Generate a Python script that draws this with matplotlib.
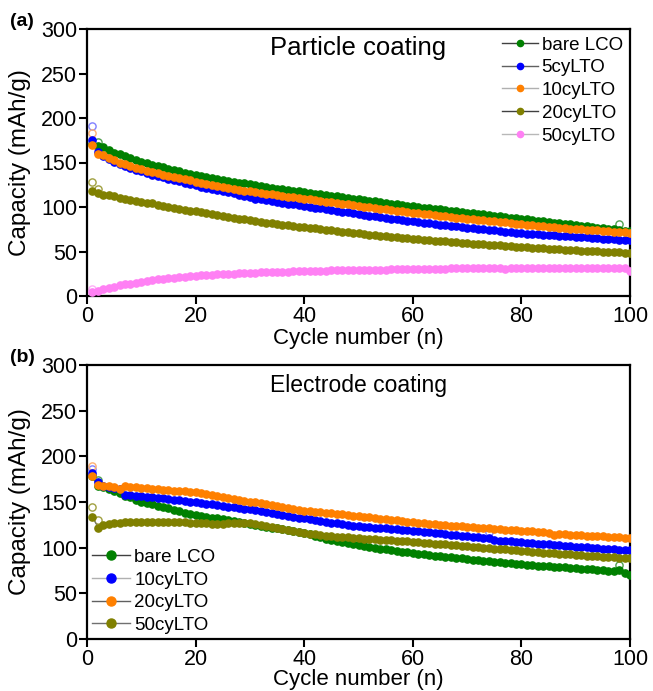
import matplotlib
matplotlib.use("Agg")
import matplotlib.pyplot as plt
import numpy as np

plt.rcParams['font.family'] = ['Liberation Sans', 'DejaVu Sans']

cycles = list(range(1, 101))

# ---------------- Panel (a): Particle coating (discharge capacity) ----------------
a_labels = ["bare LCO", "5cyLTO", "10cyLTO", "20cyLTO", "50cyLTO"]
a_bare = [171,169,167,164,161,159,157,155,153,151,
          149,147.5,146,144.5,143,141.5,140,138.5,137,135.5,
          134.5,133.5,132.5,131.5,130.5,129.5,128.5,127.5,126.5,125.5,
          124.5,123.5,122.5,121.5,120.7,119.9,119.1,118.3,117.5,116.7,
          115.9,115.1,114.3,113.5,112.7,111.9,111.1,110.3,109.5,108.7,
          107.9,107.1,106.3,105.5,104.7,103.9,103.1,102.3,101.5,100.7,
          100,99.3,98.6,97.9,97.2,96.5,95.8,95.1,94.4,93.7,
          93,92.3,91.6,90.9,90.2,89.5,88.8,88.1,87.4,86.7,
          86,85.3,84.6,83.9,83.2,82.5,81.8,81.1,80.4,79.7,
          79,78.3,77.6,76.9,76.2,75.5,74.8,74.1,73.4,72.7]
a_5cy = [175,162,157,154,151,148,146,144,142,140,
         138,136.5,135,133.5,132,130.5,129,127.5,126.2,125,
         122.5,121.3,120.1,118.9,117.7,116.5,115.2,113.9,112.6,111.3,
         109.5,108.5,107.5,106.5,105.6,104.7,103.8,102.9,102,101.1,
         100.2,99.3,98.4,97.5,96.6,95.7,94.8,93.9,93,92.1,
         91.2,90.3,89.4,88.6,87.8,87,86.2,85.4,84.6,83.8,
         83,82.3,81.6,80.9,80.2,79.5,78.8,78.1,77.4,76.7,
         76,75.4,74.8,74.2,73.6,73,72.4,71.8,71.2,70.6,
         70.2,69.8,69.4,69,68.6,68.2,67.8,67.4,67,66.6,
         66.2,65.8,65.4,65,64.6,64.2,63.8,63.4,63,62.6]
a_10cy = [170,160,158,155,153,150,148,146,144,142.5,
          141,139.5,138,136.5,135,133.5,132.2,131,129.8,128.6,
          127.5,126.3,125.1,123.9,122.7,121.5,120.5,119.5,118.5,117.5,
          116.5,115.7,114.9,114.1,113.3,112.5,111.7,110.9,110.1,109.3,
          108.5,107.7,106.9,106.1,105.3,104.5,103.7,102.9,102.1,101.3,
          100.5,99.7,98.9,98.1,97.3,96.5,95.8,95.1,94.4,93.7,
          93,92.3,91.6,90.9,90.2,89.5,88.8,88.1,87.4,86.8,
          86.2,85.6,85,84.4,83.8,83.2,82.6,82,81.4,80.8,
          80.2,79.6,79,78.4,77.8,77.2,76.7,76.2,75.7,75.2,
          74.8,74.4,74,73.6,73.2,72.8,72.4,72,71.6,71.2]
a_20cy = [118,116,114,113,112,110.5,109,108,107,106,
          105,104,102.5,101,100,99,98,97,96,95,
          94,93,92,91,90,89,88,87,86,85,
          84,83,82.2,81.5,80.8,80.1,79.4,78.7,78,77.3,
          76.6,75.9,75.2,74.5,73.8,73.1,72.4,71.7,71,70.3,
          69.7,69.1,68.5,67.9,67.3,66.7,66.1,65.5,64.9,64.3,
          63.8,63.3,62.8,62.3,61.8,61.3,60.8,60.3,59.8,59.3,
          58.8,58.4,58,57.6,57.2,56.8,56.4,56,55.6,55.2,
          54.8,54.4,54,53.6,53.2,52.8,52.4,52,51.7,51.4,
          51.1,50.8,50.5,50.2,49.9,49.6,49.3,49,48.7,48.4]
a_50cy = [5,6,7.5,9,10.5,12,13,14,15,16,
          17,17.8,18.6,19.3,20,20.6,21.2,21.7,22.2,22.7,
          23.1,23.5,23.9,24.3,24.6,24.9,25.2,25.5,25.8,26.1,
          26.3,26.5,26.7,26.9,27.1,27.3,27.5,27.7,27.9,28.1,
          28.3,28.4,28.5,28.6,28.7,28.8,28.9,29,29.1,29.2,
          29.3,29.4,29.5,29.6,29.7,29.8,29.9,30,30.1,30.2,
          30.3,30.4,30.5,30.6,30.7,30.8,30.9,31,31.1,31.2,
          31.3,31.4,31.5,31.6,31.7,31.8,29.8,31.8,31.8,31.8,
          31.8,31.8,31.8,31.8,31.8,31.8,31.8,31.8,31.8,31.8,
          31.7,31.7,31.6,31.6,31.5,31.5,31.4,31.3,31,28]
a_values = [a_bare, a_5cy, a_10cy, a_20cy, a_50cy]
# charge capacities visible (hollow markers): (cycles, values)
a_charge_cycles = [[2, 98], [1, 2], [1, 2], [1, 2], [1]]
a_charge_values = [[173, 81], [191, 166], [183, 166], [128, 120], [8]]

# ---------------- Panel (b): Electrode coating ----------------
b_labels = ["bare LCO", "10cyLTO", "20cyLTO", "50cyLTO"]
b_bare = [178,168,166,164,162,159.5,157,155,152.5,150.5,
          149,147.5,146,144.5,143,141.5,140,138.5,137,135.5,
          135,134,133,132,131,130,129,128,127,126,
          125,124,123,122,121,120,119,118,117,115.8,
          114.5,113,111.5,110,108.8,107.6,106.4,105.3,104.2,103.1,
          102,101,100,99,98,97.2,96.4,95.6,94.8,94.2,
          93.5,92.8,92.1,91.4,90.7,90,89.4,88.8,88.2,87.6,
          87,86.4,85.8,85.2,84.6,84,83.4,82.8,82.2,81.6,
          81.2,80.8,80.4,80,79.6,79.2,78.8,78.4,78,77.6,
          77,76.6,76.2,75.8,75.4,75,74.6,76,72,70]
b_10cy = [182,172,167,166,165,164,158,157.5,157,156.5,
          156,155.3,154.6,153.9,153.2,152.5,151.8,151.1,150.4,149.7,
          149,148.2,147.4,146.6,145.8,145,144.2,143.4,142.6,141.8,
          141,140,139,138,137,136,135,134,133,132,
          131,130,129,128.2,127.4,126.6,126,124.5,124,123.5,
          123,122.5,122,121.5,121,120.5,120,119.5,119,118.5,
          118,117.4,116.8,116.2,115.6,115,114.4,113.8,113.2,112.6,
          112,111.4,111,110.5,108,107.6,107.2,106.8,106.4,106,
          105.5,105,104.5,104,103.5,103,102.5,102,101.5,101,
          100.6,100.2,99.8,99.4,99,98.6,98.2,97.8,97.4,97]
b_20cy = [178,169,167,167,166,164,167,166.5,166,165.5,
          165,164.5,164,163.5,163,162.5,162,161.5,161,160.5,
          159.5,158.5,157.5,156.5,155.5,154.5,153.5,152.5,151.5,150.5,
          149.5,148.5,147.5,146.5,145.5,144.5,143.5,142.5,141.5,140.5,
          140,139.4,138.8,138.2,137.6,137,136.4,135.8,135.2,134.6,
          134,133.3,132.6,131.9,131.2,130.5,129.8,129.1,128.4,127.7,
          127.2,126.7,126.2,125.7,125.2,124.7,124.2,123.7,123.2,122.7,
          122.2,121.8,121.4,121,120.6,120.2,119.8,119.4,119,118.6,
          118.2,117.8,117.4,117,116.6,114,115,114.6,114.2,113.8,
          113.5,113.2,112.9,112.6,112.3,112,111.7,111.4,111.1,110.8]
b_50cy = [134,122,124.5,126,127,127.5,128,128,128.3,128.5,
          128.5,128.5,128.4,128.3,128.2,128,127.8,127.6,127.4,127.2,
          127,126.5,126,125.8,126,126.5,127,127.2,127,126.5,
          125.5,124.5,123.5,122.5,121.5,120.5,119.5,118.5,117.5,116.5,
          115.5,114.5,113.8,113.2,112.7,112.2,111.7,111.2,110.8,110.4,
          110,109.6,109.2,108.8,108.4,108,107.6,107.2,106.8,106.4,
          106,105.5,105,104.5,104,103.5,103,102.5,102,101.5,
          101,100.5,100,99.5,99,98.5,98,97.5,97,96.5,
          96,95.5,95,94.6,94.2,93.8,93.4,93,92.6,92.2,
          91.8,91.4,91,90.6,90.2,89.8,89.4,89,88.6,88.2]
b_values = [b_bare, b_10cy, b_20cy, b_50cy]
b_charge_cycles = [[2, 98], [1, 74], [1], [1, 2]]
b_charge_values = [[174, 81], [186, 117], [189], [145, 130]]

x_ticks = [0, 20, 40, 60, 80, 100]
y_ticks = [0, 50, 100, 150, 200, 250, 300]

# ---------------- Styles ----------------
a_colors = ["#008000", "#0000FF", "#FF8000", "#808000", "#FF80F4"]
a_edge = ["#50A050", "#8080FF", "#FFB070", "#A0A040", "#FFB0F8"]
a_lines = ["#404040", "#606060", "#B0B0B0", "#404040", "#B8B8B8"]
b_colors = ["#008000", "#0000FF", "#FF8000", "#808000"]
b_edge = ["#50A050", "#8080FF", "#FFB070", "#A0A040"]
b_lines = ["#404040", "#B0B0B0", "#606060", "#707070"]

W, H = 653, 691
fig = plt.figure(figsize=(W / 100, H / 100), dpi=100)

def px_axes(l, t, r, b):
    return fig.add_axes([l / W, 1 - b / H, (r - l) / W, (b - t) / H])

axa = px_axes(87, 29, 630, 296)
axb = px_axes(87, 365, 630, 639)

def style(ax, xl_y):
    ax.set_xlim(0, 100)
    ax.set_ylim(0, 300)
    ax.set_xticks(x_ticks)
    ax.set_yticks(y_ticks)
    for s in ax.spines.values():
        s.set_linewidth(1.6)
    ax.tick_params(direction='out', length=6, width=1.5, labelsize=15.5, pad=1,
                   top=False, right=False)
    ax.set_xlabel("Cycle number (n)", fontsize=16, labelpad=0)
    ax.xaxis.set_label_coords(0.5, xl_y)
    ax.set_ylabel("Capacity (mAh/g)", fontsize=17.5)
    ax.yaxis.set_label_coords(-0.103, 0.5)

def draw(ax, labels, values, ccyc, cval, colors, edges, lines, ms, legend_ms):
    handles = []
    for lab, v, cc, cv, col, ec, lc in zip(labels, values, ccyc, cval, colors, edges, lines):
        ax.plot(cc, cv, 'o', mfc='none', mec=ec, mew=1.0, ms=ms, zorder=2)
        ax.plot(cycles, v, '-', color=lc, lw=0.7, zorder=2.5)
        ax.plot(cycles, v, 'o', color=col, mec=col, ms=ms, zorder=3)
        h, = ax.plot([], [], '-', color=lc, lw=1.0, marker='o', mfc=col, mec=col, ms=legend_ms)
        handles.append(h)
    return handles

ha = draw(axa, a_labels, a_values, a_charge_cycles, a_charge_values,
          a_colors, a_edge, a_lines, 5.2, 4.5)
hb = draw(axb, b_labels, b_values, b_charge_cycles, b_charge_values,
          b_colors, b_edge, b_lines, 5.2, 6.5)
style(axa, -0.12)
style(axb, -0.11)

axa.legend(ha, a_labels, loc='upper right', bbox_to_anchor=(1.0055, 1.011), frameon=False,
           fontsize=13.5, handlelength=1.9, handletextpad=0.2, labelspacing=0.30,
           borderaxespad=0.15)
axb.legend(hb, b_labels, loc='lower left', bbox_to_anchor=(-0.011, -0.023), frameon=False,
           fontsize=13.5, handlelength=2.0, handletextpad=0.25, labelspacing=0.3,
           borderaxespad=0.2)

axa.text(0.5, 0.93, "Particle coating", transform=axa.transAxes, ha='center', va='center',
         fontsize=18.5)
axb.text(0.5, 0.925, "Electrode coating", transform=axb.transAxes, ha='center', va='center',
         fontsize=16.5)

fig.text(10 / W, 1 - 22 / H, "(a)", fontsize=14, fontweight='bold', ha='left', va='center')
fig.text(10 / W, 1 - 358 / H, "(b)", fontsize=14, fontweight='bold', ha='left', va='center')

fig.savefig("out.png", dpi=100)
